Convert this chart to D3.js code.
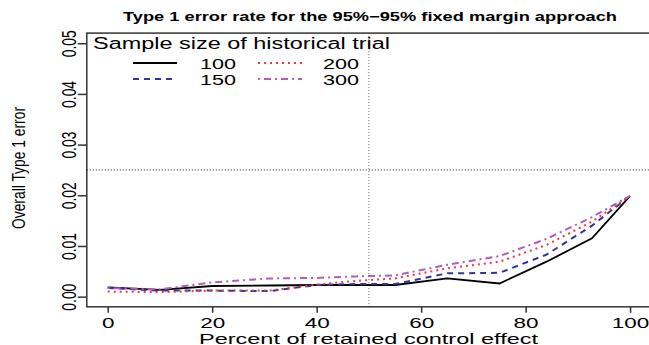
<!DOCTYPE html>
<html><head><meta charset="utf-8">
<script src="https://cdn.jsdelivr.net/npm/d3@7"></script>
<style>body{margin:0;background:#fff}svg{display:block;font-family:"Liberation Sans",Arial,Helvetica,sans-serif}</style>
</head><body><svg id="c" width="649" height="345"></svg>
<script>
const percents = [0, 10, 20, 31, 40, 47.5, 55, 65, 75, 84, 92.7, 100];
const n100 = [0.00185, 0.00132, 0.0021, 0.0022, 0.0023, 0.0023, 0.0023, 0.0036, 0.0026, 0.0069, 0.0115, 0.0199];
const n150 = [0.0017, 0.0012, 0.0012, 0.0011, 0.0023, 0.0025, 0.0025, 0.0046, 0.0047, 0.0083, 0.0140, 0.0199];
const n200 = [0.0010, 0.0009, 0.0012, 0.0012, 0.0024, 0.0031, 0.0036, 0.0056, 0.0069, 0.0102, 0.0148, 0.0199];
const n300 = [0.0017, 0.00146, 0.0028, 0.0036, 0.0037, 0.0040, 0.0042, 0.0063, 0.0080, 0.0114, 0.0157, 0.0199];
const seriesNames = ["100", "150", "200", "300"];
const xTicks = [0, 20, 40, 60, 80, 100];
const yTicks = [0, 0.01, 0.02, 0.03, 0.04, 0.05];
const refX = 50, refY = 0.025;

const series = [
  {name: "100", values: n100, color: "#000000", dash: null, w: 1.8},
  {name: "150", values: n150, color: "#33339c", dash: "6,5", w: 2},
  {name: "200", values: n200, color: "#f03a3a", dash: "2,4", w: 2},
  {name: "300", values: n300, color: "#b35db5", dash: "2,4,7,4", w: 2}
];

const svg = d3.select("#c");
const L = 86.8, R = 651, T = 33.1, B = 306.8;
const x = d3.scaleLinear().domain([-4, 104]).range([L, R]);
const y = d3.scaleLinear().domain([-0.002, 0.052]).range([B, T]);

// reference lines
svg.append("line").attr("x1", x(refX)).attr("x2", x(refX)).attr("y1", T).attr("y2", B)
  .attr("stroke", "#666").attr("stroke-width", 1).attr("stroke-dasharray", "1,2");
svg.append("line").attr("x1", L).attr("x2", R).attr("y1", y(refY)).attr("y2", y(refY))
  .attr("stroke", "#222").attr("stroke-width", 1).attr("stroke-dasharray", "1,2");

// series lines
const line = d3.line().x((d, i) => x(percents[i])).y(d => y(d));
series.forEach(s => {
  svg.append("path").attr("d", line(s.values)).attr("fill", "none")
    .attr("stroke", s.color).attr("stroke-width", s.w)
    .attr("stroke-dasharray", s.dash);
});

// box
svg.append("rect").attr("x", L).attr("y", T).attr("width", R - L).attr("height", B - T)
  .attr("fill", "none").attr("stroke", "#333").attr("stroke-width", 1.5);

// x axis
const gx = svg.append("g").attr("transform", `translate(0,${B})`)
  .call(d3.axisBottom(x).tickValues(xTicks).tickSize(6).tickFormat(d3.format("d")));
gx.select(".domain").remove();
gx.selectAll(".tick line").attr("stroke", "#333").attr("stroke-width", 1.5);
gx.selectAll(".tick text").attr("y", 21).attr("dy", null)
  .attr("font-size", 15).attr("fill", "#000")
  .attr("font-family", "Liberation Sans, Arial, sans-serif")
  .attr("textLength", d => String(d).length * 12.5).attr("lengthAdjust", "spacingAndGlyphs");

// y axis
const gy = svg.append("g").attr("transform", `translate(${L},0)`)
  .call(d3.axisLeft(y).tickValues(yTicks).tickSize(9).tickFormat(d3.format(".2f")));
gy.select(".domain").remove();
gy.selectAll(".tick line").attr("stroke", "#333").attr("stroke-width", 1.5);
gy.selectAll(".tick text").attr("x", null).attr("dy", null)
  .attr("transform", "translate(-11,0) rotate(-90)")
  .attr("text-anchor", "middle").attr("font-size", 19.5).attr("fill", "#000")
  .attr("font-family", "Liberation Sans, Arial, sans-serif")
  .attr("textLength", 27).attr("lengthAdjust", "spacingAndGlyphs");

// title
svg.append("text").attr("x", 370).attr("y", 21).attr("text-anchor", "middle")
  .attr("font-weight", "bold").attr("font-size", 12.5)
  .attr("textLength", 494).attr("lengthAdjust", "spacingAndGlyphs")
  .text("Type 1 error rate for the 95%\u221295% fixed margin approach");

// axis titles
svg.append("text").attr("x", 368.5).attr("y", 343.5).attr("text-anchor", "middle")
  .attr("font-size", 14).attr("textLength", 339).attr("lengthAdjust", "spacingAndGlyphs")
  .text("Percent of retained control effect");
svg.append("text").attr("transform", "translate(25,168) rotate(-90)").attr("text-anchor", "middle")
  .attr("font-size", 19).attr("textLength", 122).attr("lengthAdjust", "spacingAndGlyphs")
  .text("Overall Type 1 error");

// legend
const lg = svg.append("g");
lg.append("text").attr("x", 93).attr("y", 49).attr("font-size", 16)
  .attr("textLength", 297).attr("lengthAdjust", "spacingAndGlyphs")
  .text("Sample size of historical trial");
const legPos = [
  {lx: 133, tx: 200, ly: 63},
  {lx: 133, tx: 200, ly: 79},
  {lx: 258, tx: 323, ly: 63},
  {lx: 258, tx: 323, ly: 79}
];
series.forEach((s, i) => {
  const p = legPos[i];
  lg.append("line").attr("x1", p.lx).attr("x2", p.lx + 44).attr("y1", p.ly).attr("y2", p.ly)
    .attr("stroke", s.color).attr("stroke-width", s.w).attr("stroke-dasharray", s.dash);
  lg.append("text").attr("x", p.tx).attr("y", p.ly + 5.5).attr("font-size", 15)
    .attr("textLength", 36).attr("lengthAdjust", "spacingAndGlyphs").text(seriesNames[i]);
});
</script></body></html>
